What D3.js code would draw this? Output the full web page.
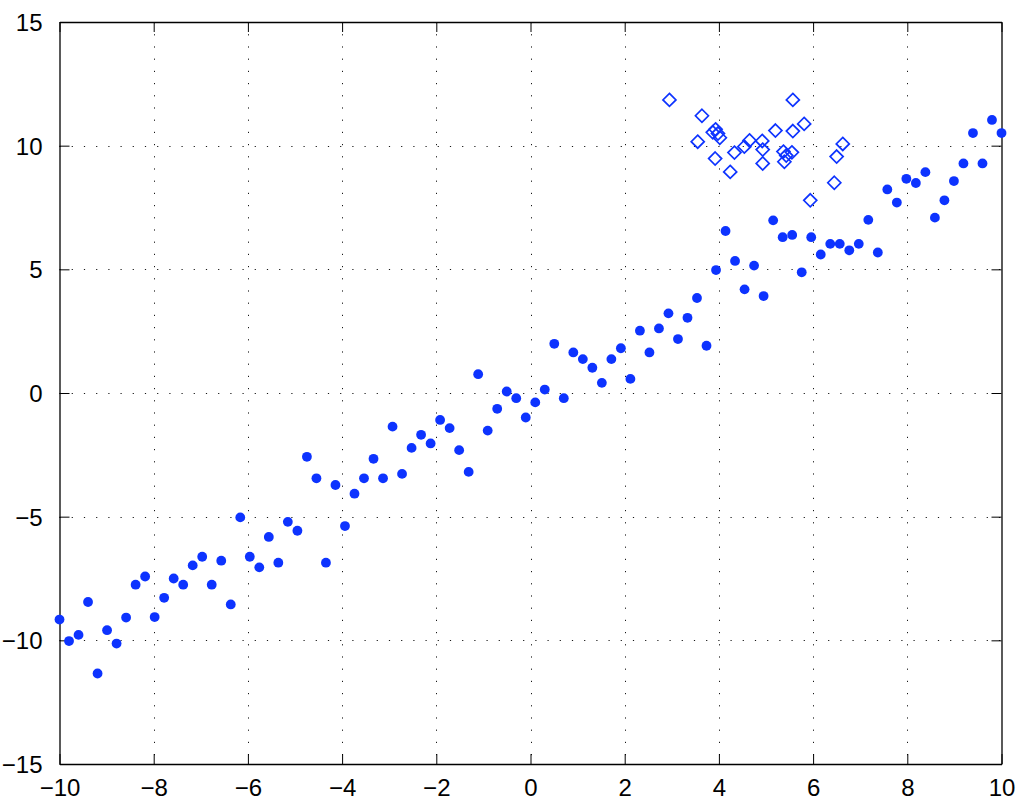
<!DOCTYPE html>
<html>
<head>
<meta charset="utf-8">
<script src="https://cdn.jsdelivr.net/npm/d3@7"></script>
<style>
  html, body { margin: 0; padding: 0; background: #fff; }
  svg { display: block; }
  text { font-family: "Liberation Sans", Arial, Helvetica, sans-serif; }
</style>
</head>
<body>
<script>
// ---- data ----
const dotX = [
  -10.000, -9.798, -9.596, -9.394, -9.192, -8.990, -8.788, -8.586, -8.384, -8.182,
  -7.980, -7.778, -7.576, -7.374, -7.172, -6.970, -6.768, -6.566, -6.364, -6.162,
  -5.960, -5.758, -5.556, -5.354, -5.152, -4.949, -4.747, -4.545, -4.343, -4.141,
  -3.939, -3.737, -3.535, -3.333, -3.131, -2.929, -2.727, -2.525, -2.323, -2.121,
  -1.919, -1.717, -1.515, -1.313, -1.111, -0.909, -0.707, -0.505, -0.303, -0.101,
  0.101, 0.303, 0.505, 0.707, 0.909, 1.111, 1.313, 1.515, 1.717, 1.919,
  2.121, 2.323, 2.525, 2.727, 2.929, 3.131, 3.333, 3.535, 3.737, 3.939,
  4.141, 4.343, 4.545, 4.747, 4.949, 5.152, 5.354, 5.556, 5.758, 5.960,
  6.162, 6.364, 6.566, 6.768, 6.970, 7.172, 7.374, 7.576, 7.778, 7.980,
  8.182, 8.384, 8.586, 8.788, 8.990, 9.192, 9.394, 9.596, 9.798, 10.000
];
const dotY = [
  -9.16, -10.03, -9.78, -8.45, -11.34, -9.59, -10.13, -9.08, -7.75, -7.42,
  -9.06, -8.28, -7.50, -7.75, -6.97, -6.62, -7.75, -6.78, -8.55, -5.03,
  -6.62, -7.05, -5.82, -6.86, -5.21, -5.57, -2.58, -3.45, -6.86, -3.72,
  -5.38, -4.07, -3.45, -2.66, -3.45, -1.36, -3.27, -2.22, -1.69, -2.04,
  -1.09, -1.42, -2.31, -3.19, 0.76, -1.52, -0.64, 0.06, -0.21, -0.99,
  -0.38, 0.14, 1.99, -0.21, 1.64, 1.37, 1.02, 0.41, 1.37, 1.81,
  0.57, 2.52, 1.64, 2.61, 3.22, 2.18, 3.04, 3.84, 1.91, 4.97,
  6.55, 5.34, 4.19, 5.15, 3.92, 6.98, 6.30, 6.39, 4.88, 6.30,
  5.60, 6.03, 6.03, 5.77, 6.03, 7.00, 5.68, 8.23, 7.70, 8.66,
  8.49, 8.93, 7.09, 7.79, 8.57, 9.28, 10.51, 9.28, 11.04, 10.51
];
const diamondX = [
  2.95, 3.64, 3.55, 3.87, 3.93, 3.98, 4.02, 3.92, 4.24, 4.33,
  4.54, 4.65, 4.92, 4.93, 4.93, 5.20, 5.37, 5.43, 5.39, 5.55,
  5.57, 5.57, 5.81, 6.63, 6.50, 6.45, 5.94
];
const diamondY = [
  11.85, 11.21, 10.16, 10.54, 10.66, 10.49, 10.32, 9.48, 8.94, 9.72,
  9.96, 10.21, 10.19, 9.84, 9.28, 10.61, 9.76, 9.60, 9.35, 9.73,
  10.59, 11.85, 10.88, 10.07, 9.56, 8.50, 7.79
];
const xTicks = [-10, -8, -6, -4, -2, 0, 2, 4, 6, 8, 10];
const yTicks = [-15, -10, -5, 0, 5, 10, 15];

// ---- layout ----
const W = 1024, H = 808;
const L = 59.5, R = 1001.5, T = 22, B = 764;
const blue = "#0d33ff";

const svg = d3.select("body").append("svg").attr("width", W).attr("height", H);

const x = d3.scaleLinear().domain([-10, 10]).range([L, R]);
const y = d3.scaleLinear().domain([-15, 15]).range([B, T]);

const fmt = v => (v < 0 ? "\u2212" + Math.abs(v) : String(v));

// grid
const grid = svg.append("g").attr("stroke", "#000").attr("stroke-width", 1)
  .attr("stroke-dasharray", "1.2,11").attr("opacity", 0.9);
grid.selectAll("line.gx").data(xTicks.slice(1, -1)).join("line")
  .attr("x1", d => Math.round(x(d)) + 0.5).attr("x2", d => Math.round(x(d)) + 0.5)
  .attr("y1", T).attr("y2", B);
grid.selectAll("line.gy").data(yTicks.slice(1, -1)).join("line")
  .attr("x1", L).attr("x2", R)
  .attr("y1", d => Math.round(y(d)) + 0.5).attr("y2", d => Math.round(y(d)) + 0.5);

// axes via d3 axis (ticks inward), on all four sides
const tickLen = 10;
const axB = svg.append("g").attr("transform", `translate(0,${B})`)
  .call(d3.axisBottom(x).tickValues(xTicks).tickSizeInner(-tickLen).tickSizeOuter(0).tickPadding(tickLen + 10).tickFormat(fmt));
const axT = svg.append("g").attr("transform", `translate(0,${T})`)
  .call(d3.axisTop(x).tickValues(xTicks).tickSizeInner(-tickLen).tickSizeOuter(0).tickFormat(""));
const axL = svg.append("g").attr("transform", `translate(${L},0)`)
  .call(d3.axisLeft(y).tickValues(yTicks).tickSizeInner(-tickLen).tickSizeOuter(0).tickPadding(tickLen + 7).tickFormat(fmt));
const axR = svg.append("g").attr("transform", `translate(${R},0)`)
  .call(d3.axisRight(y).tickValues(yTicks).tickSizeInner(-tickLen).tickSizeOuter(0).tickFormat(""));

[axB, axT, axL, axR].forEach(a => {
  a.select(".domain").attr("stroke", "#000").attr("stroke-width", 1.3);
  a.selectAll(".tick line").attr("stroke", "#000").attr("stroke-width", 1);
  a.selectAll("text").attr("fill", "#000").style("font-size", "24px")
    .style("font-family", "'Liberation Sans', Arial, Helvetica, sans-serif");
});
axB.selectAll("text").attr("dy", "0.71em").attr("y", 15);
axL.selectAll("text").attr("dy", "0.35em");

// dots
svg.append("g").selectAll("circle").data(dotX.map((d, i) => [d, dotY[i]])).join("circle")
  .attr("cx", d => x(d[0])).attr("cy", d => y(d[1])).attr("r", 4.9)
  .attr("fill", blue);

// diamonds
const dsym = d3.symbol().type(d3.symbolDiamond2).size(108);
svg.append("g").selectAll("path").data(diamondX.map((d, i) => [d, diamondY[i]])).join("path")
  .attr("transform", d => `translate(${x(d[0])},${y(d[1])})`)
  .attr("d", dsym)
  .attr("fill", "none").attr("stroke", blue).attr("stroke-width", 1.7);
</script>
</body>
</html>
